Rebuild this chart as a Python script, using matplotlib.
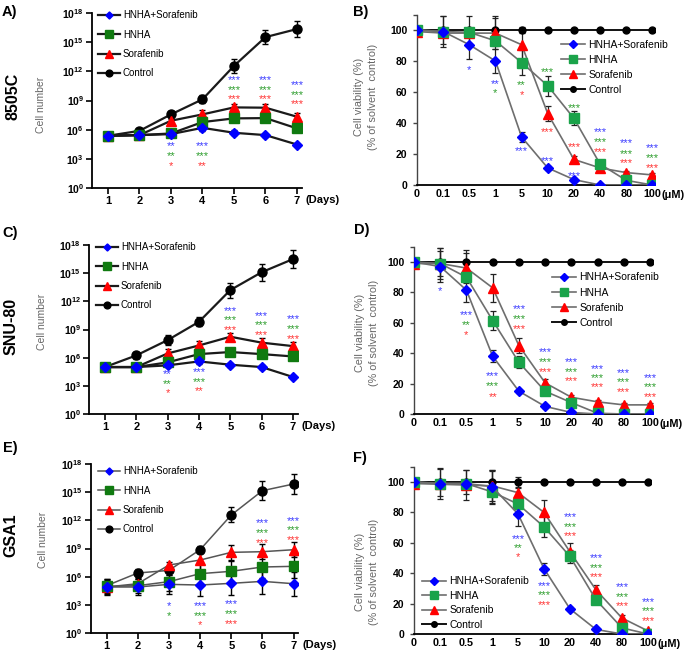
import numpy as np
import matplotlib
matplotlib.use("Agg")
import matplotlib.pyplot as plt

plt.rcParams['font.family'] = ['Liberation Sans', 'DejaVu Sans']
plt.rcParams['mathtext.fontset'] = 'custom'
plt.rcParams['mathtext.rm'] = 'Liberation Sans'
plt.rcParams['mathtext.bf'] = 'Liberation Sans:bold'

# ---------------- data ----------------
days = [1, 2, 3, 4, 5, 6, 7]
day_labels = ['1', '2', '3', '4', '5', '6', '7']
conc_labels = ['0', '0.1', '0.5', '1', '5', '10', '20', '40', '80', '100']
series_names = ['HNHA+Sorafenib', 'HNHA', 'Sorafenib', 'Control']

# Growth curves: log10(cell number)
A_combo = [5.37, 5.44, 5.54, 6.19, 5.68, 5.44, 4.47]
A_hnha = [5.37, 5.44, 5.61, 6.78, 7.16, 7.19, 6.13]
A_sor = [5.37, 5.44, 6.92, 7.57, 8.29, 8.26, 7.33]
A_ctrl = [5.37, 5.88, 7.57, 9.12, 12.56, 15.52, 16.35]
A_combo_err = [0.1, 0.1, 0.15, 0.3, 0.25, 0.15, 0.1]
A_hnha_err = [0.1, 0.1, 0.15, 0.3, 0.3, 0.3, 0.3]
A_sor_err = [0.1, 0.1, 0.2, 0.45, 0.4, 0.4, 0.35]
A_ctrl_err = [0.1, 0.15, 0.35, 0.4, 0.7, 0.75, 0.8]

C_combo = [5.0, 5.0, 5.18, 5.6, 5.25, 5.0, 3.94]
C_hnha = [5.0, 5.0, 5.5, 6.38, 6.6, 6.38, 6.13]
C_sor = [5.0, 5.0, 6.45, 7.3, 8.23, 7.6, 7.23]
C_ctrl = [5.0, 6.24, 7.87, 9.82, 13.2, 15.1, 16.5]
C_combo_err = [0.1, 0.1, 0.15, 0.25, 0.2, 0.2, 0.1]
C_hnha_err = [0.1, 0.1, 0.2, 0.3, 0.3, 0.3, 0.3]
C_sor_err = [0.1, 0.1, 0.5, 0.5, 0.45, 0.45, 0.4]
C_ctrl_err = [0.1, 0.4, 0.5, 0.5, 0.8, 0.9, 1.0]

E_combo = [4.9, 4.9, 5.18, 5.11, 5.29, 5.5, 5.25]
E_hnha = [4.97, 5.04, 5.47, 6.32, 6.57, 7.03, 7.1]
E_sor = [4.9, 5.25, 7.24, 7.77, 8.59, 8.66, 8.87]
E_ctrl = [5.04, 6.39, 6.67, 8.87, 12.57, 15.16, 15.87]
E_combo_err = [0.9, 0.8, 1.0, 1.2, 1.2, 1.3, 1.3]
E_hnha_err = [0.8, 0.8, 1.0, 1.2, 1.1, 1.2, 1.2]
E_sor_err = [0.6, 0.5, 0.3, 1.2, 0.8, 0.8, 0.8]
E_ctrl_err = [0.6, 0.4, 0.5, 0.4, 0.8, 1.0, 1.1]

# Viability (% of solvent control)
B_combo = [100, 99, 90.5, 80, 31, 11, 3.5, 0, 0, 0]
B_hnha = [100, 99, 98.5, 93, 79, 64, 43, 13.5, 3, 0]
B_sor = [99, 98, 98, 98, 90.5, 46, 16.5, 11, 8, 6.5]
B_ctrl = [100, 100, 100, 100, 100, 100, 100, 100, 100, 100]
B_combo_err = [0, 10, 9, 8, 3, 1.5, 1, 0, 0, 0]
B_hnha_err = [0, 2, 2, 3, 8, 6.5, 4.5, 2, 1, 0]
B_sor_err = [0, 2, 2, 10, 9, 5, 2.5, 1.5, 1, 1]
B_ctrl_err = [0, 9, 9, 9, 2, 0, 0, 0, 0, 0]

D_combo = [100, 97, 81.5, 38, 15, 5, 1, 0, 0, 0]
D_hnha = [100, 99, 90, 61.5, 34, 15, 7.5, 0.5, 0, 0]
D_sor = [99, 99, 96, 83, 45, 20.5, 11, 8, 6, 6]
D_ctrl = [100, 100, 100, 100, 100, 100, 100, 100, 100, 100]
D_combo_err = [0, 10, 8, 4, 1, 1, 0.5, 0, 0, 0]
D_hnha_err = [0, 10, 3, 6, 4, 1.5, 1, 0.5, 0, 0]
D_sor_err = [0, 2, 10, 9, 5, 2.5, 1.5, 1, 1, 1]
D_ctrl_err = [0, 9, 8, 0, 0, 0, 0, 0, 0, 0]

F_combo = [100, 99, 99, 97, 79, 43, 16.5, 3, 0, 0]
F_hnha = [100, 99, 99, 93.5, 85.5, 70.5, 51, 22.5, 4, 0]
F_sor = [99, 98.5, 98, 97.5, 93, 80, 54, 29, 10.5, 2]
F_ctrl = [100, 100, 100, 100, 100, 100, 100, 100, 100, 100]
F_combo_err = [0, 2, 2, 11, 8, 4, 1, 1, 0, 0]
F_hnha_err = [0, 2, 2, 8, 2, 7, 4, 2, 1, 0]
F_sor_err = [0, 10, 10, 10, 3, 8, 6, 3, 2, 1]
F_ctrl_err = [0, 9, 8, 8, 3, 0, 0, 0, 0, 0]

# significance marks: (x, y, label, series)
A_stars = [(3, 4.58, '**', 'c'), (3, 3.54, '**', 'h'), (3, 2.51, '*', 's'),
           (4, 4.58, '***', 'c'), (4, 3.54, '***', 'h'), (4, 2.51, '**', 's'),
           (5, 11.39, '***', 'c'), (5, 10.36, '***', 'h'), (5, 9.39, '***', 's'),
           (6, 11.39, '***', 'c'), (6, 10.36, '***', 'h'), (6, 9.39, '***', 's'),
           (7, 10.9, '***', 'c'), (7, 9.88, '***', 'h'), (7, 8.88, '***', 's')]
C_stars = [(3, 4.54, '**', 'c'), (3, 3.48, '**', 'h'), (3, 2.48, '*', 's'),
           (4, 4.72, '***', 'c'), (4, 3.72, '***', 'h'), (4, 2.7, '**', 's'),
           (5, 11.28, '***', 'c'), (5, 10.28, '***', 'h'), (5, 9.29, '***', 's'),
           (6, 10.74, '***', 'c'), (6, 9.75, '***', 'h'), (6, 8.76, '***', 's'),
           (7, 10.43, '***', 'c'), (7, 9.36, '***', 'h'), (7, 8.33, '***', 's')]
E_stars = [(3, 3.2, '*', 'c'), (3, 2.13, '*', 'h'),
           (4, 3.12, '***', 'c'), (4, 2.13, '***', 'h'), (4, 1.14, '*', 's'),
           (5, 3.34, '***', 'c'), (5, 2.3, '***', 'h'), (5, 1.24, '***', 's'),
           (6, 11.96, '***', 'c'), (6, 10.93, '***', 'h'), (6, 9.87, '***', 's'),
           (7, 12.25, '***', 'c'), (7, 11.25, '***', 'h'), (7, 10.22, '***', 's')]
B_stars = [(2, 75.7, '*', 'c'), (3, 67, '**', 'c'), (3, 61, '*', 'h'),
           (4, 66, '**', 'h'), (4, 60, '*', 's'), (4, 23.7, '***', 'c'),
           (5, 75, '***', 'h'), (5, 36, '***', 's'), (5, 17, '***', 'c'),
           (6, 51.4, '***', 'h'), (6, 26.5, '***', 's'), (6, 7.5, '***', 'c'),
           (7, 36, '***', 'c'), (7, 29.5, '***', 'h'), (7, 23, '***', 's'),
           (8, 28.6, '***', 'c'), (8, 22, '***', 'h'), (8, 16, '***', 's'),
           (9, 25.4, '***', 'c'), (9, 19, '***', 'h'), (9, 13, '***', 's')]
D_stars = [(1, 83, '*', 'c'),
           (2, 67, '***', 'c'), (2, 60.6, '**', 'h'), (2, 53.6, '*', 's'),
           (3, 27, '***', 'c'), (3, 20, '***', 'h'), (3, 13, '**', 's'),
           (4, 71, '***', 'c'), (4, 64.3, '***', 'h'), (4, 57.8, '***', 's'),
           (5, 42.5, '***', 'c'), (5, 36, '***', 'h'), (5, 29.5, '***', 's'),
           (6, 36, '***', 'c'), (6, 29.5, '***', 'h'), (6, 23.4, '***', 's'),
           (7, 31.7, '***', 'c'), (7, 25.6, '***', 'h'), (7, 19.5, '***', 's'),
           (8, 28.9, '***', 'c'), (8, 22.8, '***', 'h'), (8, 16.4, '***', 's'),
           (9, 25.6, '***', 'c'), (9, 19.5, '***', 'h'), (9, 13.1, '***', 's')]
F_stars = [(4, 64.3, '***', 'c'), (4, 58.4, '**', 'h'), (4, 52.3, '*', 's'),
           (5, 33.7, '***', 'c'), (5, 27.4, '***', 'h'), (5, 21.2, '***', 's'),
           (6, 78.6, '***', 'c'), (6, 72.2, '***', 'h'), (6, 66, '***', 's'),
           (7, 51.9, '***', 'c'), (7, 45.5, '***', 'h'), (7, 39.2, '***', 's'),
           (8, 32.6, '***', 'c'), (8, 26.3, '***', 'h'), (8, 20.1, '***', 's'),
           (9, 23, '***', 'c'), (9, 16.8, '***', 'h'), (9, 10.5, '***', 's')]

# ---------------- style ----------------
W, H = 687, 652
fig = plt.figure(figsize=(W / 100, H / 100), dpi=100)

BLUE = '#0000ff'
RED = '#ff0000'
GREEN_G = '#107a10'
GREEN_V = '#1aa34a'
STAR = {'c': '#3c3cff', 'h': '#2e9e2e', 's': '#ff3434'}
MARK = ['D', 's', '^', 'o']


def px_rect(left, top, right, bottom):
    return [left / W, 1 - bottom / H, (right - left) / W, (bottom - top) / H]


def fig_xy(x, y):
    return x / W, 1 - y / H


def growth_panel(rect, combo, hnha, sor, ctrl, errs, stars, line_color, lw,
                 leg_xy, leg_sp):
    ax = fig.add_axes(rect)
    ax.set_yscale('log')
    cols = [BLUE, GREEN_G, RED, 'black']
    sizes = [4.8, 7.5, 7.5, 6.5]
    data = [combo, hnha, sor, ctrl]
    for vals, err in zip(data, errs):
        v = np.array(vals)
        e = np.array(err)
        y = 10.0 ** v
        lo = y - 10.0 ** (v - e)
        hi = 10.0 ** (v + e) - y
        ax.errorbar(days, y, yerr=[lo, hi], fmt='none', ecolor='black',
                    elinewidth=1.0, capsize=2.2, capthick=1.0, zorder=2)
    handles = [None] * 4
    for i in [3, 2, 1, 0]:
        y = 10.0 ** np.array(data[i])
        h, = ax.plot(days, y, color=line_color, lw=lw, marker=MARK[i],
                     markersize=sizes[i], markerfacecolor=cols[i],
                     markeredgecolor=cols[i], zorder=3 + (3 - i),
                     label=series_names[i])
        handles[i] = h
    ax.set_ylim(1, 1e18)
    ax.set_xlim(0.5, 7.15)
    exps = [0, 3, 6, 9, 12, 15, 18]
    ax.set_yticks([10.0 ** k for k in exps])
    ax.set_yticklabels([r'$\mathbf{10^{%d}}$' % k for k in exps])
    ax.minorticks_off()
    ax.set_xticks(days)
    ax.set_xticklabels(day_labels)
    for s in ['top', 'right']:
        ax.spines[s].set_visible(False)
    for s in ['left', 'bottom']:
        ax.spines[s].set_linewidth(1.3)
    ax.tick_params(axis='y', direction='out', length=4, width=1.2,
                   labelsize=7.5, pad=2)
    ax.tick_params(axis='x', direction='out', length=4, width=1.2,
                   labelsize=8, pad=2)
    for lab in ax.get_xticklabels():
        lab.set_fontweight('bold')
    for (x, yv, lab, key) in stars:
        ax.annotate(lab, xy=(x, 10.0 ** yv), xytext=(0, -4.2),
                    textcoords='offset points', ha='center', va='baseline',
                    color=STAR[key], fontsize=8, zorder=6)
    ax.annotate('(Days)', xy=(1, 0), xycoords='axes fraction',
                xytext=(4, -12), textcoords='offset pixels', ha='left',
                va='center', fontsize=8, fontweight='bold')
    lx, ly = fig_xy(*leg_xy)
    ax.legend(handles=handles, loc='upper left', bbox_to_anchor=(lx, ly),
              bbox_transform=fig.transFigure, frameon=False, borderpad=0,
              borderaxespad=0, handlelength=2.3, handletextpad=0.25,
              labelspacing=leg_sp, fontsize=7.0, markerscale=0.75)
    return ax


def via_panel(rect, combo, hnha, sor, ctrl, errs, stars, leg_xy, leg_sp):
    ax = fig.add_axes(rect)
    xs = np.arange(len(conc_labels))
    cols = [BLUE, GREEN_V, RED, 'black']
    sizes = [4.8, 6.5, 7.5, 5]
    data = [combo, hnha, sor, ctrl]
    for vals, err in zip(data, errs):
        ax.errorbar(xs, vals, yerr=err, fmt='none', ecolor='#222222',
                    elinewidth=0.9, capsize=2.2, capthick=0.9, zorder=2)
    handles = [None] * 4
    for i in [3, 2, 1, 0]:
        lc = '#111111' if i == 3 else '#6e6e6e'
        lw = 1.4 if i == 3 else 1.2
        h, = ax.plot(xs, data[i], color=lc, lw=lw, marker=MARK[i],
                     markersize=sizes[i], markerfacecolor=cols[i],
                     markeredgecolor=cols[i], zorder=3 + (3 - i),
                     label=series_names[i])
        handles[i] = h
    ax.set_xlim(0, 9.1)
    ax.set_ylim(0, 110)
    ax.set_yticks([0, 20, 40, 60, 80, 100, 110])
    ax.set_yticklabels(['0', '20', '40', '60', '80', '100', ''])
    ax.set_xticks(xs)
    ax.set_xticklabels(conc_labels)
    for s in ['top', 'right']:
        ax.spines[s].set_visible(False)
    ax.spines['left'].set_linewidth(1.0)
    ax.spines['left'].set_color('#444444')
    ax.spines['bottom'].set_linewidth(1.3)
    ax.tick_params(axis='y', direction='out', length=3, width=1.0,
                   labelsize=7.5, pad=4, color='#444444')
    ax.tick_params(axis='x', length=0, labelsize=7.8, pad=3)
    for lab in ax.get_xticklabels() + ax.get_yticklabels():
        lab.set_fontweight('bold')
    for (x, yv, lab, key) in stars:
        ax.annotate(lab, xy=(x, yv), xytext=(0, -4.2),
                    textcoords='offset points', ha='center', va='baseline',
                    color=STAR[key], fontsize=8, zorder=6)
    ax.annotate('(\u03bcM)', xy=(1, 0), xycoords='axes fraction',
                xytext=(7, -10), textcoords='offset pixels', ha='left',
                va='center', fontsize=7.8, fontweight='bold')
    lx, ly = fig_xy(*leg_xy)
    ax.legend(handles=handles, loc='upper left', bbox_to_anchor=(lx, ly),
              bbox_transform=fig.transFigure, frameon=False, borderpad=0,
              borderaxespad=0, handlelength=2.3, handletextpad=0.3,
              labelspacing=leg_sp, fontsize=7.5, markerscale=0.8)
    return ax


# growth panels
growth_panel(px_rect(92.25, 13, 301.7, 188), A_combo, A_hnha, A_sor, A_ctrl,
             [A_combo_err, A_hnha_err, A_sor_err, A_ctrl_err], A_stars,
             '#1a1a1a', 1.6, (98, 10.5), 0.95)
growth_panel(px_rect(89.3, 245, 297.7, 414), C_combo, C_hnha, C_sor, C_ctrl,
             [C_combo_err, C_hnha_err, C_sor_err, C_ctrl_err], C_stars,
             '#1a1a1a', 1.6, (96, 242.5), 0.95)
growth_panel(px_rect(91, 464, 298.3, 633), E_combo, E_hnha, E_sor, E_ctrl,
             [E_combo_err, E_hnha_err, E_sor_err, E_ctrl_err], E_stars,
             '#555555', 1.1, (98, 466.5), 0.95)

# viability panels
via_panel(px_rect(417, 14.5, 655, 185), B_combo, B_hnha, B_sor, B_ctrl,
          [B_combo_err, B_hnha_err, B_sor_err, B_ctrl_err], B_stars,
          (561, 39.5), 0.5)
via_panel(px_rect(414, 246.8, 652.6, 414), D_combo, D_hnha, D_sor, D_ctrl,
          [D_combo_err, D_hnha_err, D_sor_err, D_ctrl_err], D_stars,
          (552, 272.5), 0.5)
via_panel(px_rect(414, 466.8, 650.6, 634), F_combo, F_hnha, F_sor, F_ctrl,
          [F_combo_err, F_hnha_err, F_sor_err, F_ctrl_err], F_stars,
          (422, 576.5), 0.42)

# panel letters
for lab, x, y in [('A)', 2, 12), ('B)', 353, 12), ('C)', 2, 233),
                  ('D)', 354, 230), ('E)', 3, 448), ('F)', 353, 458)]:
    fx, fy = fig_xy(x, y)
    fig.text(fx, fy, lab, ha='left', va='center', fontsize=10.5,
             fontweight='bold')

# row labels
for lab, x, y in [('8505C', 13, 96), ('SNU-80', 11, 326), ('GSA1', 11, 535)]:
    fx, fy = fig_xy(x, y)
    fig.text(fx, fy, lab, ha='center', va='center', rotation=90,
             fontsize=11.5, fontweight='bold')

# y labels
for x, y in [(41, 105), (42, 322), (43, 540)]:
    fx, fy = fig_xy(x, y)
    fig.text(fx, fy, 'Cell number', ha='center', va='center', rotation=90,
             fontsize=7.5, color='#666666')
for x, y in [(366, 97), (367, 333), (367, 572)]:
    fx, fy = fig_xy(x, y)
    fig.text(fx, fy, 'Cell viability (%)\n(% of solvent  control)',
             ha='center', va='center', rotation=90, fontsize=7.8,
             color='#666666', linespacing=1.55, multialignment='center')

fig.savefig('out.png', dpi=100)
